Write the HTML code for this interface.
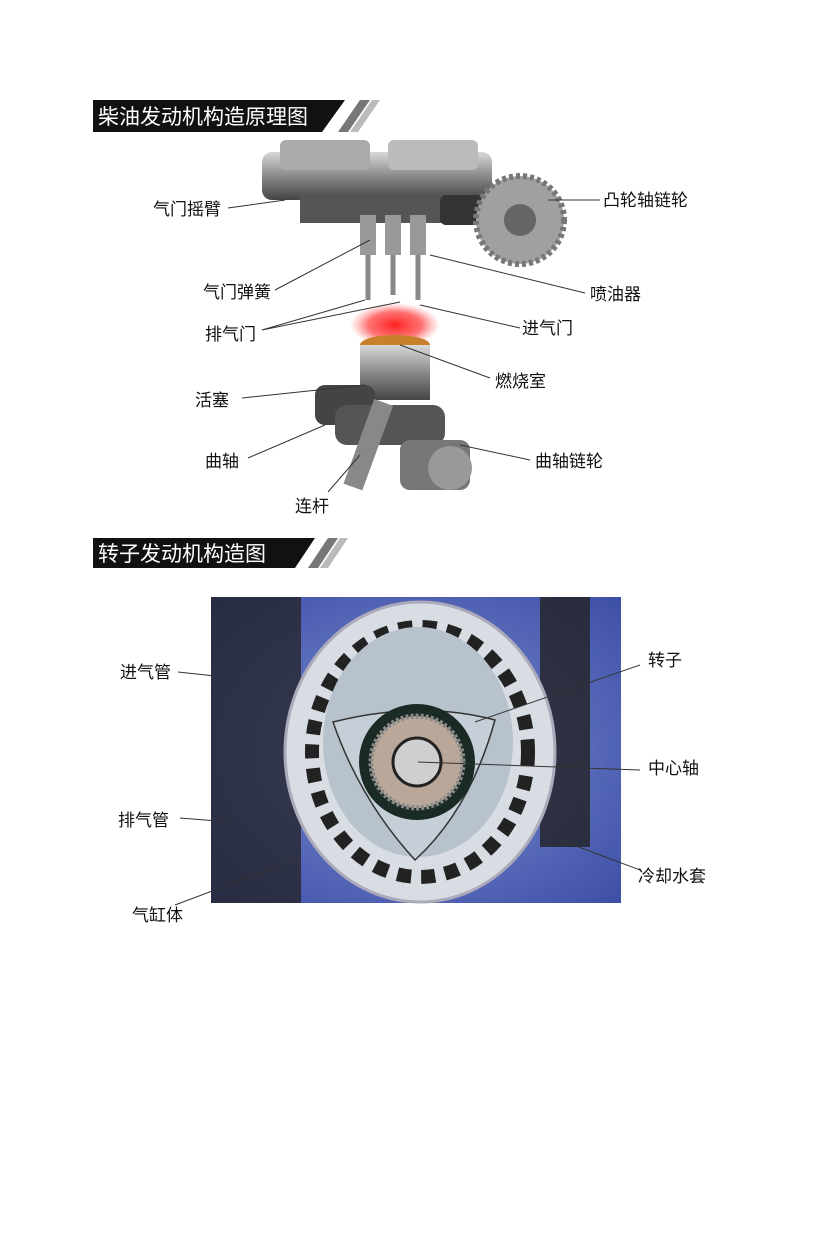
<!DOCTYPE html>
<html><head><meta charset="utf-8"><style>
body{margin:0;background:#fff;}
svg{display:block}
text{font-family:"Liberation Sans","Noto Sans CJK SC",sans-serif;font-size:17px;fill:#111}
.h{fill:#fff;font-size:21px}
</style></head><body>
<svg width="817" height="1249" viewBox="0 0 817 1249" xmlns="http://www.w3.org/2000/svg">
<defs>
<radialGradient id="fire"><stop offset="0" stop-color="#ff2020"/><stop offset=".6" stop-color="#ff5050" stop-opacity=".8"/><stop offset="1" stop-color="#ff8080" stop-opacity="0"/></radialGradient>
<linearGradient id="metal" x1="0" y1="0" x2="0" y2="1"><stop offset="0" stop-color="#d8d8d8"/><stop offset=".5" stop-color="#8a8a8a"/><stop offset="1" stop-color="#444"/></linearGradient>
<radialGradient id="blue" cx=".5" cy=".5" r=".7"><stop offset="0" stop-color="#7d8fd6"/><stop offset="1" stop-color="#3e4fa6"/></radialGradient>
</defs>
<!-- header 1 -->
<polygon points="93,100 345,100 322,132 93,132" fill="#111"/>
<polygon points="338,132 360,100 370,100 348,132" fill="#777"/>
<polygon points="350,132 372,100 380,100 358,132" fill="#bbb"/>
<text class="h" x="98" y="124">柴油发动机构造原理图</text>
<!-- engine 1 -->
<g>
<rect x="262" y="152" width="230" height="48" rx="10" fill="url(#metal)"/>
<rect x="280" y="140" width="90" height="30" rx="6" fill="#aaa"/>
<rect x="388" y="140" width="90" height="30" rx="6" fill="#bbb"/>
<rect x="300" y="195" width="150" height="28" fill="#555"/>
<rect x="440" y="195" width="70" height="30" rx="6" fill="#333"/>
<circle cx="520" cy="220" r="44" fill="#a0a0a0" stroke="#777" stroke-width="6" stroke-dasharray="4 3"/>
<circle cx="520" cy="220" r="16" fill="#666"/>
<g fill="#999">
<rect x="360" y="215" width="16" height="40" /><rect x="385" y="215" width="16" height="40"/><rect x="410" y="215" width="16" height="40"/>
</g>
<g stroke="#888" stroke-width="5">
<line x1="368" y1="255" x2="368" y2="300"/><line x1="393" y1="255" x2="393" y2="295"/><line x1="418" y1="255" x2="418" y2="300"/>
</g>
<ellipse cx="395" cy="325" rx="45" ry="22" fill="url(#fire)"/>
<ellipse cx="395" cy="345" rx="35" ry="10" fill="#c8802a"/>
<rect x="360" y="345" width="70" height="55" fill="url(#metal)"/>
<rect x="315" y="385" width="60" height="40" rx="10" fill="#444"/>
<rect x="335" y="405" width="110" height="40" rx="12" fill="#555"/>
<rect x="360" y="400" width="20" height="90" transform="rotate(20 370 440)" fill="#888"/>
<rect x="400" y="440" width="70" height="50" rx="10" fill="#777"/>
<circle cx="450" cy="468" r="22" fill="#999"/>
</g>
<g stroke="#333" stroke-width="1" fill="none">
<line x1="228" y1="208" x2="285" y2="200"/>
<line x1="548" y1="200" x2="600" y2="200"/>
<line x1="275" y1="290" x2="370" y2="240"/>
<line x1="430" y1="255" x2="585" y2="293"/>
<line x1="262" y1="330" x2="365" y2="300"/>
<line x1="262" y1="330" x2="400" y2="302"/>
<line x1="420" y1="305" x2="520" y2="328"/>
<line x1="400" y1="345" x2="490" y2="378"/>
<line x1="242" y1="398" x2="365" y2="385"/>
<line x1="248" y1="458" x2="325" y2="425"/>
<line x1="460" y1="445" x2="530" y2="460"/>
<line x1="328" y1="492" x2="360" y2="455"/>
</g>
<text x="153" y="215">气门摇臂</text>
<text x="603" y="206">凸轮轴链轮</text>
<text x="203" y="298">气门弹簧</text>
<text x="590" y="300">喷油器</text>
<text x="205" y="340">排气门</text>
<text x="522" y="334">进气门</text>
<text x="495" y="387">燃烧室</text>
<text x="195" y="406">活塞</text>
<text x="205" y="467">曲轴</text>
<text x="535" y="467">曲轴链轮</text>
<text x="295" y="512">连杆</text>
<!-- header 2 -->
<polygon points="93,538 315,538 295,568 93,568" fill="#111"/>
<polygon points="308,568 328,538 338,538 318,568" fill="#777"/>
<polygon points="320,568 340,538 348,538 328,568" fill="#bbb"/>
<text class="h" x="98" y="561">转子发动机构造图</text>
<!-- rotary -->
<rect x="211" y="597" width="410" height="306" fill="url(#blue)"/>
<rect x="211" y="597" width="90" height="306" fill="#222" opacity=".75"/>
<rect x="540" y="597" width="50" height="250" fill="#222" opacity=".8"/>
<ellipse cx="420" cy="752" rx="135" ry="150" fill="#d8dde4" stroke="#aab" stroke-width="3"/>
<ellipse cx="420" cy="752" rx="108" ry="125" fill="none" stroke="#222" stroke-width="14" stroke-dasharray="14 10"/>
<ellipse cx="418" cy="742" rx="95" ry="115" fill="#b8c2cc"/>
<path d="M333,722 Q420,700 495,720 Q470,810 415,860 Q360,800 333,722Z" fill="#c6ced8" stroke="#333" stroke-width="1.5"/>
<circle cx="417" cy="762" r="58" fill="#1a2a24"/>
<circle cx="417" cy="762" r="46" fill="#b9a89a" stroke="#888" stroke-width="5" stroke-dasharray="3 2"/>
<circle cx="417" cy="762" r="24" fill="#cfcfcf" stroke="#222" stroke-width="3"/>
</g>
<g stroke="#333" stroke-width="1" fill="none">
<line x1="178" y1="672" x2="215" y2="676"/>
<line x1="640" y1="665" x2="475" y2="722"/>
<line x1="640" y1="770" x2="418" y2="762"/>
<line x1="180" y1="818" x2="230" y2="822"/>
<line x1="640" y1="870" x2="560" y2="840"/>
<line x1="175" y1="905" x2="300" y2="858"/>
</g>
<text x="120" y="678">进气管</text>
<text x="648" y="666">转子</text>
<text x="648" y="774">中心轴</text>
<text x="118" y="826">排气管</text>
<text x="638" y="882">冷却水套</text>
<text x="132" y="921">气缸体</text>
</svg>
</body></html>
